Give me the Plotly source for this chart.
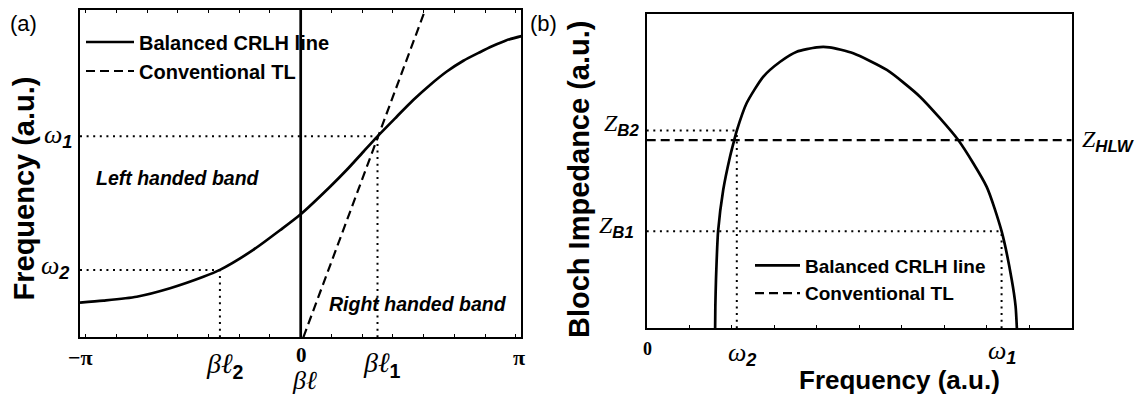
import numpy as np
import plotly.graph_objects as go

PI = np.pi
SERIF = "Liberation Serif"
SANS = "Liberation Sans"
W, H = 1137, 394

# ---- (a) dispersion diagram -------------------------------------------
# Balanced CRLH line: beta*l (in units of pi) vs normalised frequency
crlh_bl_pi = [-1.0, -0.894, -0.743, -0.592, -0.441, -0.366, -0.215, -0.094, 0.0,
              0.133, 0.208, 0.284, 0.348, 0.435, 0.510, 0.586, 0.662, 0.737,
              0.812, 0.867, 0.93, 1.0]
crlh_omega = [0.106, 0.112, 0.124, 0.150, 0.185, 0.206, 0.267, 0.327, 0.376,
              0.460, 0.511, 0.567, 0.614, 0.674, 0.725, 0.771, 0.812, 0.845,
              0.871, 0.889, 0.907, 0.920]
# Conventional TL (straight line through the origin)
tl_bl_pi = [0.012, 0.564]
tl_omega = [0.0, 1.0]
# Marked operating points
bl2_pi, bl1_pi = -0.366, 0.348
omega2, omega1 = 0.206, 0.614

# ---- (b) Bloch impedance ----------------------------------------------
freq = [0.161, 0.1615, 0.163, 0.168, 0.180, 0.196, 0.206, 0.212, 0.235, 0.274,
        0.314, 0.353, 0.400, 0.430, 0.486, 0.565, 0.643, 0.733, 0.800, 0.835,
        0.859, 0.868, 0.871]
z_bloch = [0.0, 0.07, 0.154, 0.309, 0.440, 0.546, 0.599, 0.629, 0.716, 0.800,
           0.848, 0.880, 0.894, 0.894, 0.875, 0.822, 0.737, 0.599, 0.450, 0.309,
           0.154, 0.07, 0.0]
f_w2, f_w1 = 0.212, 0.835
z_b2, z_b1, z_hlw = 0.629, 0.309, 0.599

bl = np.array(crlh_bl_pi) * PI
tl = np.array(tl_bl_pi) * PI
bl2, bl1 = bl2_pi * PI, bl1_pi * PI

SOLID = dict(color="black", width=2.7)
DASH = dict(color="black", width=2.2, dash="9px,5px")
DOT = dict(color="black", width=2, dash="2px,4.6px")

fig = go.Figure()

# panel (a)
fig.add_trace(go.Scatter(x=bl, y=crlh_omega, mode="lines", line=dict(SOLID, shape="spline", smoothing=0.7),
                         name="Balanced CRLH line", xaxis="x", yaxis="y", legend="legend"))
fig.add_trace(go.Scatter(x=tl, y=tl_omega, mode="lines", line=DASH,
                         name="Conventional TL", xaxis="x", yaxis="y", legend="legend"))
fig.add_trace(go.Scatter(x=[0, 0], y=[0, 1], mode="lines", line=SOLID, showlegend=False,
                         xaxis="x", yaxis="y"))
for xv, yv in [(bl1, omega1), (bl2, omega2)]:
    fig.add_trace(go.Scatter(x=[-PI, xv], y=[yv, yv], mode="lines", line=DOT, showlegend=False,
                             xaxis="x", yaxis="y"))
    fig.add_trace(go.Scatter(x=[xv, xv], y=[0, yv], mode="lines", line=DOT, showlegend=False,
                             xaxis="x", yaxis="y"))

# panel (b)
fig.add_trace(go.Scatter(x=freq, y=z_bloch, mode="lines", line=dict(SOLID, shape="spline", smoothing=0.6),
                         name="Balanced CRLH line", xaxis="x2", yaxis="y2", legend="legend2"))
fig.add_trace(go.Scatter(x=[0, 1], y=[z_hlw, z_hlw], mode="lines", line=DASH,
                         name="Conventional TL", xaxis="x2", yaxis="y2", legend="legend2"))
for xv, yv in [(f_w2, z_b2), (f_w1, z_b1)]:
    fig.add_trace(go.Scatter(x=[0, xv], y=[yv, yv], mode="lines", line=DOT, showlegend=False,
                             xaxis="x2", yaxis="y2"))
    fig.add_trace(go.Scatter(x=[xv, xv], y=[0, yv], mode="lines", line=DOT, showlegend=False,
                             xaxis="x2", yaxis="y2"))


def px(x):
    return x / W


def py(y):
    return 1 - y / H


ax_common = dict(showgrid=False, zeroline=False, showline=True, linecolor="black",
                 linewidth=2.4, showticklabels=False, fixedrange=True)

fig.update_layout(
    width=W, height=H, margin=dict(l=0, r=0, t=0, b=0),
    plot_bgcolor="white", paper_bgcolor="white", showlegend=True,
    xaxis=dict(ax_common, domain=[px(80), px(521.4)], range=[-PI, PI], ticks="inside",
               ticklen=3, tickwidth=1, tickcolor="black", tick0=0, dtick=0.4375, mirror="ticks"),
    yaxis=dict(ax_common, domain=[py(337.3), py(10)], range=[0, 1], ticks="", mirror=True),
    xaxis2=dict(ax_common, domain=[px(646.7), px(1071.7)], range=[0, 1], ticks="inside",
                ticklen=3, tickwidth=1, tickcolor="black", tick0=0, dtick=0.1, mirror=True,
                anchor="y2"),
    yaxis2=dict(ax_common, domain=[py(328.3), py(14)], range=[0, 1], ticks="", mirror=True,
                anchor="x2"),
    legend=dict(x=px(81), xanchor="left", y=py(22.5), yanchor="top", bgcolor="rgba(0,0,0,0)",
                font=dict(family=SANS, size=20, weight="bold", color="black"), itemwidth=48,
                borderwidth=0, traceorder="normal"),
    legend2=dict(x=px(750), xanchor="left", y=py(246.5), yanchor="top", bgcolor="rgba(0,0,0,0)",
                 font=dict(family=SANS, size=19, weight="bold", color="black"), itemwidth=45,
                 borderwidth=0, traceorder="normal"),
)

SUB = 'style="font-family:Liberation Sans;font-weight:bold;font-style:italic"'
SUBN = 'style="font-family:Liberation Sans;font-weight:bold"'


def ann(text, x, y, xref="paper", yref="paper", size=20, family=SANS, xanchor="center",
        yanchor="middle", xshift=0, yshift=0, angle=0):
    fig.add_annotation(text=text, x=x, y=y, xref=xref, yref=yref, showarrow=False,
                       font=dict(family=family, size=size, color="black"), xanchor=xanchor,
                       yanchor=yanchor, xshift=xshift, yshift=yshift, textangle=angle)


# panel (a) axis labels
ann("<b>−π</b>", -PI, py(357), xref="x", size=22, family=SERIF)
ann("<b>0</b>", 0, py(355), xref="x", size=21, family=SERIF, xshift=1)
ann("<b>π</b>", PI, py(357), xref="x", size=22, family=SERIF, xshift=-2)
ann(f"<i>βℓ</i><sub><span {SUBN}>2</span></sub>", bl2, py(365), xref="x", size=28,
    family=SERIF, xshift=5)
ann(f"<i>βℓ</i><sub><span {SUBN}>1</span></sub>", bl1, py(364), xref="x", size=28,
    family=SERIF, xshift=4)
ann("<i>βℓ</i>", 0, py(380), xref="x", size=26, family=SERIF, xshift=4)
ann(f"<i>ω</i><sub><span {SUB}>1</span></sub>", px(74), omega1, yref="y", size=26,
    family=SERIF, xanchor="right")
ann(f"<i>ω</i><sub><span {SUB}>2</span></sub>", px(71), omega2, yref="y", size=26,
    family=SERIF, xanchor="right", yshift=3)
ann("<b>Frequency (a.u.)</b>", px(23.5), py(189), size=29, angle=-90)
ann("(a)", px(23), py(23), size=22)
ann("<b><i>Left handed band</i></b>", px(177.5), py(178), size=19.5)
ann("<b><i>Right handed band</i></b>", px(418), py(304), size=19.5)

# panel (b) axis labels
ann("<b>0</b>", 0, py(349), xref="x2", size=18, family=SERIF, xshift=1)
ann(f"<i>ω</i><sub><span {SUB}>2</span></sub>", f_w2, py(354), xref="x2", size=26,
    family=SERIF, xshift=5)
ann(f"<i>ω</i><sub><span {SUB}>1</span></sub>", f_w1, py(352), xref="x2", size=26,
    family=SERIF)
ann("<b>Frequency (a.u.)</b>", px(899), py(380), size=26)
ann(f"<i>Z</i><sub><span {SUB}>B2</span></sub>", px(641), z_b2, yref="y2", size=24,
    family=SERIF, xanchor="right", yshift=6)
ann(f"<i>Z</i><sub><span {SUB}>B1</span></sub>", px(636), z_b1, yref="y2", size=24,
    family=SERIF, xanchor="right", yshift=4)
ann(f"<i>Z</i><sub><span {SUB}>HLW</span></sub>", px(1080), z_hlw, yref="y2", size=24,
    family=SERIF, xanchor="left", yshift=-1)
ann("<b>Bloch Impedance (a.u.)</b>", px(579), py(180), size=29, angle=-90)
ann("(b)", px(543), py(23), size=22)

fig.write_html("out.html")
